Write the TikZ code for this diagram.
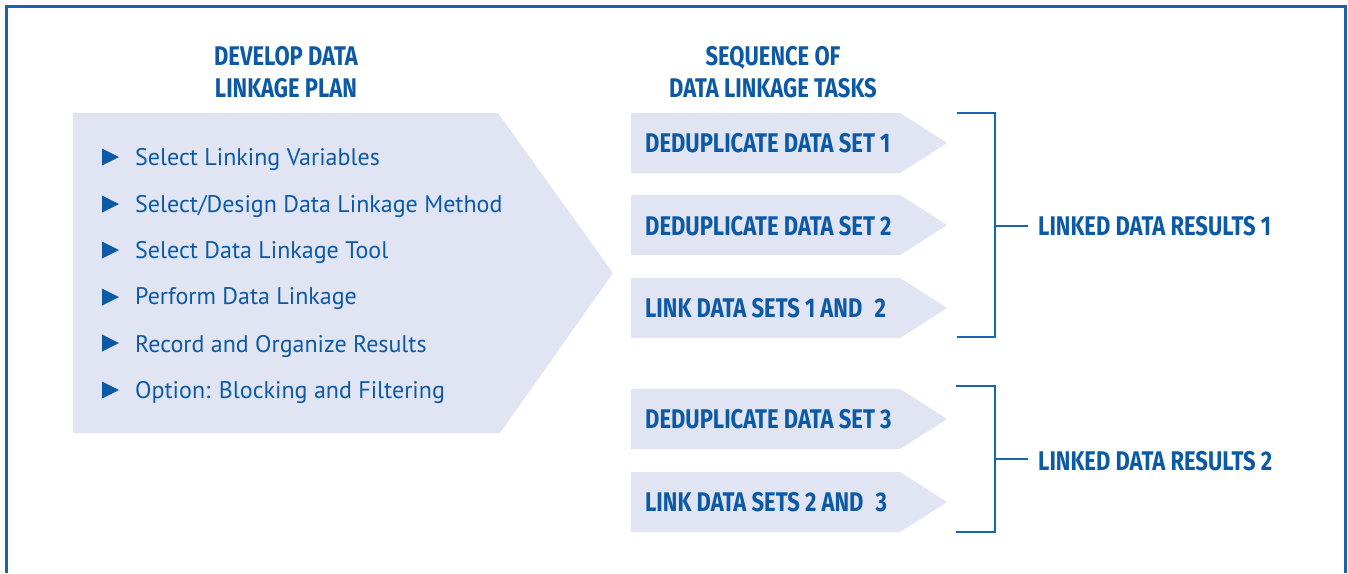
\documentclass[tikz,border=0pt]{standalone}
\usepackage{fontspec}
\setmainfont{PT Sans}
\newfontfamily\headfont{Fira Sans}[FakeStretch=0.815]
\usetikzlibrary{positioning}

\definecolor{linkblue}{HTML}{0C5AA6}
\definecolor{framblue}{HTML}{1A64AE}
\definecolor{boxfill}{HTML}{E1E5F3}

\tikzset{
    head/.style={text=linkblue, font=\headfont\bfseries\fontsize{27}{32}\selectfont, align=center, inner sep=0pt},
    task/.style={text=linkblue, font=\headfont\bfseries\fontsize{27}{32}\selectfont, anchor=west, inner sep=0pt},
    planitem/.style={text=linkblue, font=\fontsize{24}{28}\selectfont, anchor=west, inner sep=0pt},
    bracket/.style={draw=framblue, line width=1.3pt},
}

\newcommand{\bullettri}[1]{\fill[linkblue] (102,#1-8.5) -- (119,#1) -- (102,#1+8.5) -- cycle;}

\begin{document}
\begin{tikzpicture}[x=1pt, y=-1pt]
    \useasboundingbox (0,0) rectangle (1348,573);
    \draw[framblue, line width=2.5pt](6.5,573) -- (6.5,6.5) -- (1345.5,6.5) -- (1345.5,573);

    % plan
    \fill[boxfill](73,113) -- (498,113) -- (613,273) -- (500,433) -- (73,433) -- cycle;
    \node[head] (planhead) at (286,72){DEVELOP DATA\\LINKAGE PLAN};

    \bullettri{157}
    \bullettri{204}
    \bullettri{250}
    \bullettri{297}
    \bullettri{343}
    \bullettri{390}
    \node[planitem] (i1) at (135,159){Select Linking Variables};
    \node[planitem] (i2) at (135,206){Select/Design Data Linkage Method};
    \node[planitem] (i3) at (135,252){Select Data Linkage Tool};
    \node[planitem] (i4) at (135,299){Perform Data Linkage};
    \node[planitem] (i5) at (135,346){Record and Organize Results};
    \node[planitem] (i6) at (135,392){Option: Blocking and Filtering};

    % tasks
    \node[head] (taskhead) at (773,72){SEQUENCE OF\\DATA LINKAGE TASKS};

    \fill[boxfill](631,113) -- (900,113) -- (947,143) -- (900,173) -- (631,173) -- cycle;
    \fill[boxfill](631,195) -- (900,195) -- (947,225) -- (900,255) -- (631,255) -- cycle;
    \fill[boxfill](631,278) -- (900,278) -- (947,308) -- (900,338) -- (631,338) -- cycle;
    \fill[boxfill](631,389) -- (900,389) -- (947,419) -- (900,449) -- (631,449) -- cycle;
    \fill[boxfill](631,472) -- (900,472) -- (947,502) -- (900,532) -- (631,532) -- cycle;

    \node[task] (t1) at (645,143){DEDUPLICATE DATA SET 1};
    \node[task] (t2) at (645,226){DEDUPLICATE DATA SET 2};
    \node[task] (t3) at (645,308){LINK DATA SETS 1 AND\hspace{0.45em}2};
    \node[task] (t4) at (645,419){DEDUPLICATE DATA SET 3};
    \node[task] (t5) at (645,502){LINK DATA SETS 2 AND\hspace{0.45em}3};

    % results
    \coordinate (b1top) at (957,113);
    \coordinate (b1bot) at (957,337);
    \coordinate (b2top) at (956,386);
    \coordinate (b2bot) at (956,532);
    \node[task] (r1) at (1038,226){LINKED DATA RESULTS 1};
    \node[task] (r2) at (1038,461){LINKED DATA RESULTS 2};

    \draw[bracket](b1top) -- (995,113) -- (995,337) -- (b1bot);
    \draw[bracket](995,226) -- ([xshift=-10pt]r1.west);
    \draw[bracket](b2top) -- (995,386) -- (995,532) -- (b2bot);
    \draw[bracket](995,459) -- ([xshift=-10pt]r2.west |- 995,459);

\end{tikzpicture}
\end{document}
